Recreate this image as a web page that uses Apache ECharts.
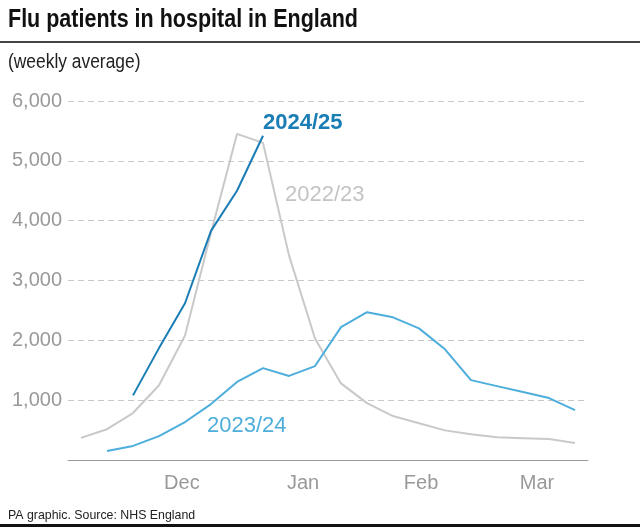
<!DOCTYPE html>
<html>
<head>
<meta charset="utf-8">
<script src="https://cdn.jsdelivr.net/npm/echarts@6/dist/echarts.min.js"></script>
<style>
html,body{margin:0;padding:0;background:#fff;}
#chart{width:640px;height:530px;}
</style>
</head>
<body>
<div id="chart"></div>
<script>
// Weekly slots (20 weeks, early Nov to mid Mar)
var weeks = ['W1','W2','W3','W4','W5','W6','W7','W8','W9','W10','W11','W12','W13','W14','W15','W16','W17','W18','W19','W20'];
// Series values (weekly average flu patients in hospital)
var season2022 = [370, 515, 785, 1250, 2080, 3800, 5450, 5300, 3420, 2030, 1280, 950, 735, 615, 495, 430, 380, 365, 350, 285];
var season2023 = [null, 150, 235, 400, 635, 935, 1305, 1535, 1405, 1570, 2220, 2470, 2385, 2200, 1850, 1335, 1235, 1135, 1035, 835];
var season2024 = [null, null, 1080, 1870, 2620, 3830, 4500, 5420];
// Month labels and their positions along the week scale
var monthLabels = ['Dec', 'Jan', 'Feb', 'Mar'];
var monthPositions = [4.38, 9.04, 13.58, 18.04];
// Y tick labels
var yTicks = [0, 1000, 2000, 3000, 4000, 5000, 6000];

var FONT = "'Liberation Sans', Arial, Helvetica, sans-serif";
var chart = echarts.init(document.getElementById('chart'), null, {renderer: 'canvas'});

var option = {
  backgroundColor: '#ffffff',
  animation: false,
  grid: {left: 68, right: 52, top: 101, bottom: 70, containLabel: false},
  xAxis: [
    {
      type: 'category',
      data: weeks,
      boundaryGap: true,
      axisLine: {show: true, lineStyle: {color: '#999999', width: 1}},
      axisTick: {show: false},
      axisLabel: {show: false},
      splitLine: {show: false}
    },
    {
      type: 'value',
      min: 0,
      max: 20,
      position: 'bottom',
      axisLine: {show: false},
      axisTick: {show: false},
      splitLine: {show: false},
      axisLabel: {
        show: true,
        customValues: monthPositions,
        margin: 13,
        color: '#999999',
        fontSize: 20,
        fontFamily: FONT,
        formatter: function (v) {
          for (var i = 0; i < monthPositions.length; i++) {
            if (Math.abs(monthPositions[i] - v) < 1e-6) return monthLabels[i];
          }
          return '';
        }
      }
    }
  ],
  yAxis: {
    type: 'value',
    min: yTicks[0],
    max: yTicks[yTicks.length - 1],
    interval: 1000,
    axisLine: {show: false},
    axisTick: {show: false},
    axisLabel: {
      margin: 6,
      color: '#999999',
      fontSize: 20,
      fontFamily: FONT,
      formatter: function (v) { return v === 0 ? '' : v.toLocaleString('en-GB'); }
    },
    splitLine: {show: true, lineStyle: {color: '#c8c8c8', width: 1, type: [6, 4]}}
  },
  series: [
    {
      name: '2022/23', type: 'line', xAxisIndex: 0, data: season2022,
      showSymbol: false, symbol: 'none', z: 2,
      lineStyle: {color: '#c9c9c9', width: 2}
    },
    {
      name: '2023/24', type: 'line', xAxisIndex: 0, data: season2023,
      showSymbol: false, symbol: 'none', z: 3,
      lineStyle: {color: '#4eaedb', width: 2}
    },
    {
      name: '2024/25', type: 'line', xAxisIndex: 0, data: season2024,
      showSymbol: false, symbol: 'none', z: 4,
      lineStyle: {color: '#1a7db5', width: 2}
    }
  ],
  graphic: [
    {type: 'text', left: 8, top: 8, scaleX: 0.86, originX: 0,
     style: {text: 'Flu patients in hospital in England', font: 'bold 25px ' + FONT, fill: '#111111'}},
    {type: 'rect', shape: {x: 0, y: 41, width: 640, height: 2}, style: {fill: '#444444'}},
    {type: 'text', x: 8, y: 62, scaleX: 0.87,
     style: {text: '(weekly average)', font: '20px ' + FONT, fill: '#222222', textVerticalAlign: 'middle', verticalAlign: 'middle'}},
    {type: 'text', x: 263, y: 123,
     style: {text: '2024/25', font: 'bold 22px ' + FONT, fill: '#1a7db5', verticalAlign: 'middle'}},
    {type: 'text', x: 285, y: 195,
     style: {text: '2022/23', font: '22px ' + FONT, fill: '#c4c4c4', verticalAlign: 'middle'}},
    {type: 'text', x: 207, y: 426,
     style: {text: '2023/24', font: '22px ' + FONT, fill: '#4eaedb', verticalAlign: 'middle'}},
    {type: 'text', x: 8, y: 515, scaleX: 0.95,
     style: {text: 'PA graphic. Source: NHS England', font: '13px ' + FONT, fill: '#222222', verticalAlign: 'middle'}},
    {type: 'rect', shape: {x: 0, y: 524, width: 640, height: 3}, style: {fill: '#111111'}}
  ]
};
chart.setOption(option);
</script>
</body>
</html>
